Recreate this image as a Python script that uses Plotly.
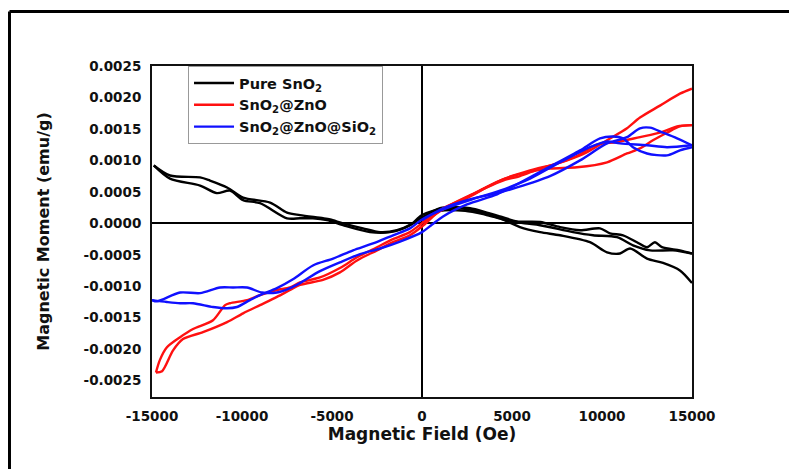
import plotly.graph_objects as go

# ---------------- data (field in Oe, moment in emu/g) ----------------
# Pure SnO2
pure_virgin_H = [0, 1000, 2670, 3600, 4330, 5280, 6560, 7670, 8780, 9890, 10440, 11170, 11940, 12500, 12940, 13330, 14330, 15000]
pure_virgin_M = [0.08e-3, 0.24e-3, 0.24e-3, 0.17e-3, 0.11e-3, 0.03e-3, 0.02e-3, -0.06e-3, -0.11e-3, -0.08e-3, -0.16e-3, -0.19e-3, -0.30e-3, -0.38e-3, -0.30e-3, -0.38e-3, -0.43e-3, -0.48e-3]
pure_desc_H = [15000, 13940, 12670, 11720, 10830, 9500, 8390, 6560, 5700, 4600, 3500, 2400, 1000, 0,
               -500, -1390, -2330, -3280, -4390, -5100, -5500, -6780, -7500, -8440, -9940, -10830, -11780, -12330, -14000, -14900]
pure_desc_M = [-0.48e-3, -0.43e-3, -0.43e-3, -0.35e-3, -0.22e-3, -0.19e-3, -0.14e-3, -0.03e-3, 0.00e-3, 0.06e-3, 0.14e-3, 0.20e-3, 0.20e-3, 0.09e-3,
               0.00e-3, -0.11e-3, -0.14e-3, -0.08e-3, 0.00e-3, 0.06e-3, 0.08e-3, 0.13e-3, 0.17e-3, 0.33e-3, 0.41e-3, 0.57e-3, 0.68e-3, 0.73e-3, 0.76e-3, 0.92e-3]
pure_asc_H = [-14900, -14000, -12330, -11400, -10670, -9940, -9000, -7500, -6780, -6060, -5280, -4390, -2890, -1780, -670, 0,
              1280, 2670, 4330, 5440, 6560, 7670, 9330, 10280, 11000, 11560, 12500, 13390, 14330, 15000]
pure_asc_M = [0.92e-3, 0.71e-3, 0.60e-3, 0.48e-3, 0.52e-3, 0.37e-3, 0.32e-3, 0.08e-3, 0.08e-3, 0.08e-3, 0.05e-3, -0.03e-3, -0.14e-3, -0.14e-3, -0.03e-3, 0.13e-3,
              0.24e-3, 0.22e-3, 0.08e-3, -0.06e-3, -0.14e-3, -0.19e-3, -0.30e-3, -0.46e-3, -0.48e-3, -0.40e-3, -0.56e-3, -0.63e-3, -0.75e-3, -0.95e-3]

# SnO2@ZnO
zno_virgin_H = [0, 1560, 3220, 4500, 6000, 7500, 8600, 9720, 10830, 12110, 13220, 14170, 15000]
zno_virgin_M = [0.03e-3, 0.29e-3, 0.52e-3, 0.70e-3, 0.84e-3, 0.95e-3, 1.07e-3, 1.25e-3, 1.29e-3, 1.37e-3, 1.44e-3, 1.54e-3, 1.56e-3]
zno_desc_H = [15000, 14330, 13610, 12830, 12110, 11390, 10280, 8610, 7110, 5830, 4330, 2670, 1280, 0,
              -670, -1610, -2500, -3610, -4560, -5670, -6780, -7330, -8060, -9000, -9720, -10670, -10940, -11610, -12720, -13440, -14170, -14560, -14780]
zno_desc_M = [1.56e-3, 1.54e-3, 1.44e-3, 1.32e-3, 1.19e-3, 1.11e-3, 0.97e-3, 0.89e-3, 0.87e-3, 0.81e-3, 0.68e-3, 0.44e-3, 0.24e-3, 0.00e-3,
              -0.14e-3, -0.25e-3, -0.38e-3, -0.54e-3, -0.71e-3, -0.86e-3, -0.94e-3, -1.02e-3, -1.06e-3, -1.14e-3, -1.22e-3, -1.27e-3, -1.30e-3, -1.54e-3, -1.68e-3, -1.81e-3, -1.97e-3, -2.17e-3, -2.37e-3]
zno_asc_H = [-14780, -14440, -13830, -13280, -12170, -10830, -9940, -9000, -8060, -7330, -6780, -5500, -4560, -3610, -2500, -1610, -670, 0,
             1170, 2500, 3600, 4500, 5440, 6560, 8060, 9170, 10280, 11390, 12110, 13220, 14330, 15000]
zno_asc_M = [-2.37e-3, -2.35e-3, -2.02e-3, -1.84e-3, -1.73e-3, -1.57e-3, -1.43e-3, -1.30e-3, -1.17e-3, -1.06e-3, -0.98e-3, -0.90e-3, -0.78e-3, -0.59e-3, -0.43e-3, -0.30e-3, -0.19e-3, -0.05e-3,
             0.24e-3, 0.40e-3, 0.57e-3, 0.68e-3, 0.75e-3, 0.87e-3, 1.00e-3, 1.13e-3, 1.32e-3, 1.51e-3, 1.68e-3, 1.87e-3, 2.06e-3, 2.14e-3]

# SnO2@ZnO@SiO2
sio_virgin_H = [0, 1170, 2500, 4170, 5280, 7110, 8780, 10280, 11390, 12110, 12670, 13390, 14170, 15000]
sio_virgin_M = [0.05e-3, 0.24e-3, 0.37e-3, 0.48e-3, 0.57e-3, 0.75e-3, 1.00e-3, 1.27e-3, 1.37e-3, 1.51e-3, 1.52e-3, 1.44e-3, 1.35e-3, 1.24e-3]
sio_desc_H = [15000, 13610, 12500, 11000, 10280, 9330, 7670, 6000, 4330, 2670, 1170, 0,
              -670, -1610, -2720, -3830, -4940, -6060, -7170, -8060, -9000, -9560, -10280, -10830, -11610, -12720, -13440, -14170, -15000]
sio_desc_M = [1.24e-3, 1.21e-3, 1.24e-3, 1.27e-3, 1.30e-3, 1.21e-3, 0.97e-3, 0.71e-3, 0.52e-3, 0.37e-3, 0.22e-3, 0.06e-3,
              -0.08e-3, -0.19e-3, -0.32e-3, -0.43e-3, -0.56e-3, -0.67e-3, -0.89e-3, -1.03e-3, -1.14e-3, -1.22e-3, -1.33e-3, -1.35e-3, -1.33e-3, -1.27e-3, -1.27e-3, -1.25e-3, -1.22e-3]
sio_asc_H = [-15000, -14720, -13440, -12330, -11220, -10500, -9720, -8890, -8060, -7330, -6780, -5670, -4560, -3440, -2330, -1220, 0,
             560, 1170, 2500, 4170, 5280, 7110, 8780, 9890, 10610, 11170, 11720, 12500, 13610, 14330, 15000]
sio_asc_M = [-1.22e-3, -1.24e-3, -1.10e-3, -1.11e-3, -1.02e-3, -1.02e-3, -1.02e-3, -1.10e-3, -1.10e-3, -1.03e-3, -0.95e-3, -0.76e-3, -0.62e-3, -0.49e-3, -0.40e-3, -0.29e-3, -0.14e-3,
             -0.02e-3, 0.11e-3, 0.30e-3, 0.46e-3, 0.62e-3, 0.90e-3, 1.16e-3, 1.35e-3, 1.38e-3, 1.35e-3, 1.21e-3, 1.11e-3, 1.08e-3, 1.16e-3, 1.21e-3]

series_names = ["Pure SnO<sub>2</sub>", "SnO<sub>2</sub>@ZnO", "SnO<sub>2</sub>@ZnO@SiO<sub>2</sub>"]
series_colors = ["#000000", "#ff1010", "#1010ff"]

x_tick_vals = [-15000, -10000, -5000, 0, 5000, 10000, 15000]
x_tick_text = ["-15000", "-10000", "-5000", "0", "5000", "10000", "15000"]
y_tick_vals = [-0.0025, -0.0020, -0.0015, -0.0010, -0.0005, 0.0, 0.0005, 0.0010, 0.0015, 0.0020, 0.0025]
y_tick_text = ["-0.0025", "-0.0020", "-0.0015", "-0.0010", "-0.0005", "0.0000", "0.0005", "0.0010", "0.0015", "0.0020", "0.0025"]

FONT = "DejaVu Sans"

fig = go.Figure()
datasets = [
    [(pure_virgin_H, pure_virgin_M), (pure_desc_H, pure_desc_M), (pure_asc_H, pure_asc_M)],
    [(zno_virgin_H, zno_virgin_M), (zno_desc_H, zno_desc_M), (zno_asc_H, zno_asc_M)],
    [(sio_virgin_H, sio_virgin_M), (sio_desc_H, sio_desc_M), (sio_asc_H, sio_asc_M)],
]
for i, branches in enumerate(datasets):
    for j, (hx, my) in enumerate(branches):
        fig.add_trace(go.Scatter(
            x=hx, y=my, mode="lines",
            line=dict(color=series_colors[i], width=2.4, shape="spline", smoothing=0.8),
            name=series_names[i], legendgroup=series_names[i], showlegend=(j == 0),
            hoverinfo="skip"))

axis_common = dict(showgrid=False, showline=True, linecolor="#111111", linewidth=2, mirror=True,
                   ticks="", zeroline=True, zerolinecolor="#000000", zerolinewidth=2,
                   ticklabelstandoff=6,
                   tickfont=dict(family=FONT, size=13.5, color="#111111", weight="bold"))

# page body has an 8px margin, so the figure is sized to fit the 797x469 window
fig.update_layout(
    width=789, height=461,
    margin=dict(l=144, r=105, t=58, b=72),
    paper_bgcolor="white", plot_bgcolor="white",
    showlegend=True,
    legend=dict(x=0.0667, y=1.0, xanchor="left", yanchor="top",
                bgcolor="white", bordercolor="#999999", borderwidth=1,
                font=dict(family=FONT, size=14.5, color="#111111", weight="bold"),
                tracegroupgap=0, itemwidth=40),
    xaxis=dict(axis_common, range=[-15000, 15000], tickvals=x_tick_vals, ticktext=x_tick_text,
               title=dict(text="Magnetic Field (Oe)", standoff=1,
                          font=dict(family=FONT, size=17, color="#111111", weight="bold"))),
    yaxis=dict(axis_common, range=[-0.00276, 0.0025], tickvals=y_tick_vals, ticktext=y_tick_text,
               title=dict(text="Magnetic Moment (emu/g)", standoff=30,
                          font=dict(family=FONT, size=16, color="#111111", weight="bold"))),
    shapes=[
        dict(type="line", xref="paper", yref="paper", x0=-0.2639, x1=1.25, y0=1.1647, y1=1.1647,
             line=dict(color="black", width=3)),
        dict(type="line", xref="paper", yref="paper", x0=-0.2639, x1=-0.2639, y0=1.1647, y1=-0.25,
             line=dict(color="black", width=3)),
    ],
)

fig.write_html("out.html")
